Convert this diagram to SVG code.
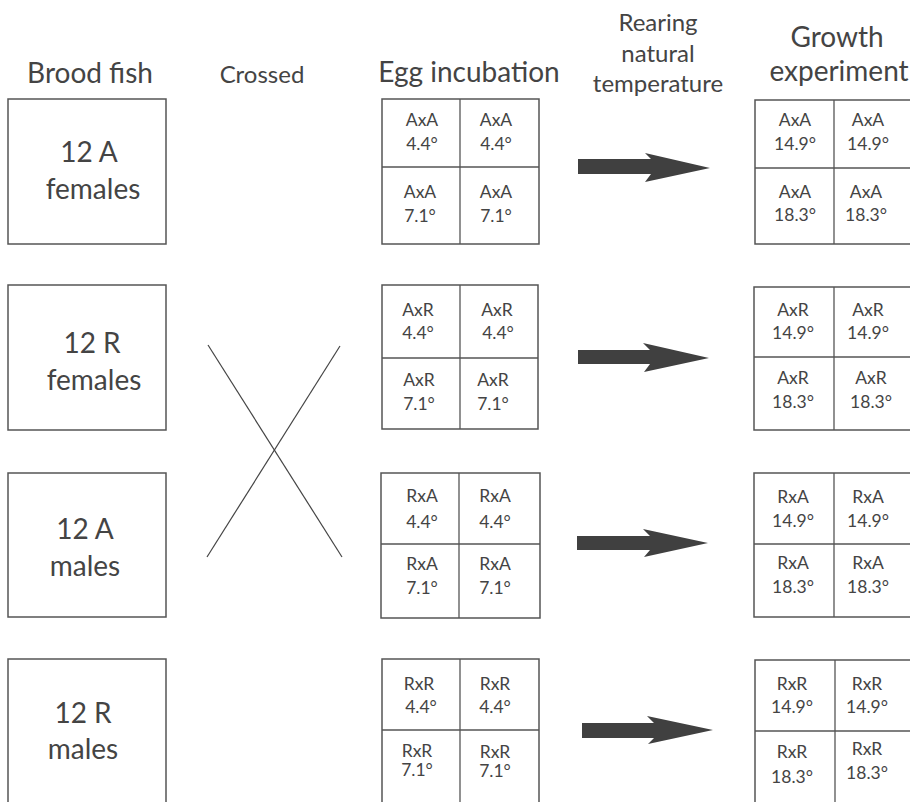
<svg xmlns="http://www.w3.org/2000/svg" width="910" height="802" viewBox="0 0 910 802">
<style>
text{font-family:Lato,"Open Sans","Liberation Sans",sans-serif;fill:#444;text-anchor:middle}
.hd{font-size:28px}
.sub{font-size:24px}
.cr{font-size:24px}
.big{font-size:28px}
.c{font-size:17.5px}
.box{fill:#fff;stroke:#555;stroke-width:1.5}
.ln{stroke:#555;stroke-width:1.3;fill:none}
.arr{fill:#404040}
.x{stroke:#444;stroke-width:1.2}
</style>
<rect width="910" height="802" fill="#fff"/>
<g id="headers">
<text class="hd" x="90" y="83">Brood fish</text>
<text class="cr" x="262" y="83">Crossed</text>
<text class="hd" x="469" y="82">Egg incubation</text>
<text class="sub" x="658" y="31">Rearing</text>
<text class="sub" x="658" y="62">natural</text>
<text class="sub" x="658" y="92">temperature</text>
<text class="hd" x="837" y="47">Growth</text>
<text class="hd" x="839" y="81">experiment</text>
</g>
<g id="brood-a-females">
<rect class="box" x="8" y="99" width="158" height="145"/>
<text class="big" x="89" y="162">12 A</text>
<text class="big" x="93" y="199">females</text>
</g>
<g id="brood-r-females">
<rect class="box" x="8" y="285" width="158" height="145"/>
<text class="big" x="92" y="353">12 R</text>
<text class="big" x="94" y="390">females</text>
</g>
<g id="brood-a-males">
<rect class="box" x="8" y="473" width="158" height="144"/>
<text class="big" x="85" y="539">12 A</text>
<text class="big" x="85" y="576">males</text>
</g>
<g id="brood-r-males">
<rect class="box" x="8" y="659" width="158" height="160"/>
<text class="big" x="83" y="723">12 R</text>
<text class="big" x="83" y="759">males</text>
</g>
<g id="egg-axa">
<rect class="box" x="382" y="99" width="157" height="145"/>
<line class="ln" x1="460" y1="99" x2="460" y2="244"/>
<line class="ln" x1="382" y1="167" x2="539" y2="167"/>
<text class="c" x="422" y="126">AxA</text><text class="c" x="422" y="150">4.4°</text>
<text class="c" x="496" y="126">AxA</text><text class="c" x="496" y="150">4.4°</text>
<text class="c" x="420" y="198">AxA</text><text class="c" x="420" y="222">7.1°</text>
<text class="c" x="496" y="198">AxA</text><text class="c" x="496" y="222">7.1°</text>
</g>
<g id="egg-axr">
<rect class="box" x="382" y="285" width="156" height="144"/>
<line class="ln" x1="460" y1="285" x2="460" y2="429"/>
<line class="ln" x1="382" y1="358" x2="538" y2="358"/>
<text class="c" x="418" y="316">AxR</text><text class="c" x="418" y="339">4.4°</text>
<text class="c" x="497" y="316">AxR</text><text class="c" x="498" y="339">4.4°</text>
<text class="c" x="419" y="386">AxR</text><text class="c" x="419" y="410">7.1°</text>
<text class="c" x="493" y="386">AxR</text><text class="c" x="493" y="410">7.1°</text>
</g>
<g id="egg-rxa">
<rect class="box" x="381" y="473" width="159" height="145"/>
<line class="ln" x1="459" y1="473" x2="459" y2="618"/>
<line class="ln" x1="381" y1="544" x2="540" y2="544"/>
<text class="c" x="422" y="502">RxA</text><text class="c" x="422" y="528">4.4°</text>
<text class="c" x="495" y="502">RxA</text><text class="c" x="495" y="528">4.4°</text>
<text class="c" x="422" y="570">RxA</text><text class="c" x="422" y="594">7.1°</text>
<text class="c" x="495" y="570">RxA</text><text class="c" x="495" y="594">7.1°</text>
</g>
<g id="egg-rxr">
<rect class="box" x="382" y="659" width="157" height="160"/>
<line class="ln" x1="460" y1="659" x2="460" y2="819"/>
<line class="ln" x1="382" y1="730" x2="539" y2="730"/>
<text class="c" x="419" y="690">RxR</text><text class="c" x="421" y="713">4.4°</text>
<text class="c" x="495" y="690">RxR</text><text class="c" x="495" y="713">4.4°</text>
<text class="c" x="417" y="757">RxR</text><text class="c" x="417" y="776">7.1°</text>
<text class="c" x="495" y="758">RxR</text><text class="c" x="495" y="777">7.1°</text>
</g>
<g id="growth-axa">
<rect class="box" x="755" y="100" width="170" height="144"/>
<line class="ln" x1="834" y1="100" x2="834" y2="244"/>
<line class="ln" x1="755" y1="168" x2="910" y2="168"/>
<text class="c" x="795" y="126">AxA</text><text class="c" x="795" y="150">14.9°</text>
<text class="c" x="868" y="126">AxA</text><text class="c" x="868" y="150">14.9°</text>
<text class="c" x="795" y="198">AxA</text><text class="c" x="795" y="221">18.3°</text>
<text class="c" x="866" y="198">AxA</text><text class="c" x="866" y="221">18.3°</text>
</g>
<g id="growth-axr">
<rect class="box" x="754" y="287" width="170" height="143"/>
<line class="ln" x1="834" y1="287" x2="834" y2="430"/>
<line class="ln" x1="754" y1="357" x2="910" y2="357"/>
<text class="c" x="793" y="316">AxR</text><text class="c" x="793" y="339">14.9°</text>
<text class="c" x="868" y="316">AxR</text><text class="c" x="868" y="339">14.9°</text>
<text class="c" x="793" y="384">AxR</text><text class="c" x="793" y="408">18.3°</text>
<text class="c" x="871" y="384">AxR</text><text class="c" x="871" y="408">18.3°</text>
</g>
<g id="growth-rxa">
<rect class="box" x="754" y="473" width="170" height="144"/>
<line class="ln" x1="834" y1="473" x2="834" y2="617"/>
<line class="ln" x1="754" y1="544" x2="910" y2="544"/>
<text class="c" x="793" y="503">RxA</text><text class="c" x="793" y="527">14.9°</text>
<text class="c" x="868" y="503">RxA</text><text class="c" x="868" y="527">14.9°</text>
<text class="c" x="793" y="569">RxA</text><text class="c" x="793" y="593">18.3°</text>
<text class="c" x="868" y="569">RxA</text><text class="c" x="868" y="593">18.3°</text>
</g>
<g id="growth-rxr">
<rect class="box" x="755" y="660" width="170" height="160"/>
<line class="ln" x1="835" y1="660" x2="835" y2="820"/>
<line class="ln" x1="755" y1="731" x2="910" y2="731"/>
<text class="c" x="792" y="690">RxR</text><text class="c" x="792" y="713">14.9°</text>
<text class="c" x="867" y="690">RxR</text><text class="c" x="867" y="713">14.9°</text>
<text class="c" x="792" y="758">RxR</text><text class="c" x="792" y="783">18.3°</text>
<text class="c" x="867" y="755">RxR</text><text class="c" x="867" y="779">18.3°</text>
</g>
<g id="connectors">
<line class="x" x1="208" y1="345" x2="342" y2="557"/>
<line class="x" x1="340" y1="346" x2="207" y2="557"/>
<polygon class="arr" points="578,159 651,159 645,153 710,168 645,182 651,174 578,174"/>
<polygon class="arr" points="578,350 650,350 643,343 709,358 644,372 650,364 578,364"/>
<polygon class="arr" points="577,536 650,536 643,529 708,543 644,557 650,550 577,550"/>
<polygon class="arr" points="582,723 654,723 647,716 713,730 648,744 654,738 582,738"/>
</g>
</svg>
